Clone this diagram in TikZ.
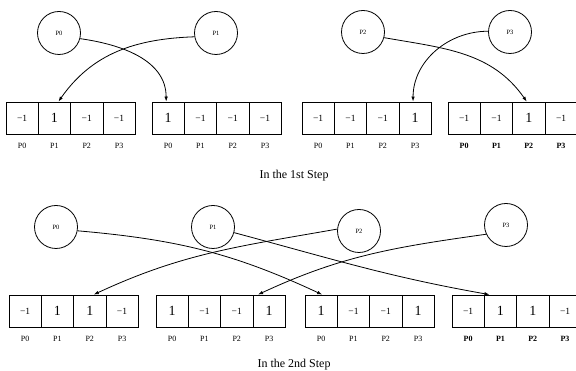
\documentclass[tikz,border=0pt]{standalone}
\usepackage{fontspec}
\setmainfont{Liberation Serif}
\usetikzlibrary{arrows.meta}
\newcommand\mo{{\fontsize{9.5}{11}\selectfont −1}}
\newcommand\one{{\fontsize{14}{16}\selectfont 1}}
\tikzset{
  cell/.style={draw, line width=0.8pt, minimum width=32.3pt, minimum height=32pt, inner sep=0pt},
  lab/.style={font=\fontsize{8}{9}\selectfont, inner sep=0pt},
  boldlab/.style={font=\fontsize{8}{9}\selectfont\bfseries, inner sep=0pt},
  proc/.style={draw, circle, line width=0.8pt, minimum size=43pt, inner sep=0pt, font=\fontsize{6.5}{8}\selectfont},
  msg/.style={line width=0.8pt, -{Latex[length=5pt,width=3.5pt]}},
  title/.style={font=\fontsize{12}{14}\selectfont, inner sep=0pt}
}
\newcommand\arrayrow[5]{%
  \foreach \v [count=\i from 0] in {#4} {
    \node[cell] (#1c\i) at ({#2+16.15+32.3*\i},#3) {\v};
    \node[#5] (#1l\i) at ({#2+16.15+32.3*\i},#3-28) {P\i};
  }}
\begin{document}
\begin{tikzpicture}[x=1pt,y=1pt]
\useasboundingbox (0,0) rectangle (576,371);
% ---- first step ----
\arrayrow{a1}{6}{253}{\mo,\one,\mo,\mo}{lab}
\arrayrow{a2}{152}{253}{\one,\mo,\mo,\mo}{lab}
\arrayrow{a3}{302}{253}{\mo,\mo,\mo,\one}{lab}
\arrayrow{a4}{448}{253}{\mo,\mo,\one,\mo}{boldlab}
\node[proc] (p0t) at (59,338) {P0};
\node[proc] (p1t) at (216,338) {P1};
\node[proc] (p2t) at (363,339) {P2};
\node[proc] (p3t) at (510,339) {P3};
\draw[msg] (p0t.-15) to[out=-8,in=90] ([xshift=-2pt]a2c0.north);
\draw[msg] (p1t.190) to[out=182,in=55] ([xshift=4pt]a1c1.north);
\draw[msg] (p2t.-15) to[out=-10,in=125] ([xshift=-2pt]a4c2.north);
\draw[msg] (p3t.178) to[out=180,in=90] ([xshift=-2pt]a3c3.north);
\node[title] (t1) at (294,195) {In the 1st Step};
% ---- second step ----
\arrayrow{b1}{9}{60}{\mo,\one,\one,\mo}{lab}
\arrayrow{b2}{156}{60}{\one,\mo,\mo,\one}{lab}
\arrayrow{b3}{305}{60}{\one,\mo,\mo,\one}{lab}
\arrayrow{b4}{452}{60}{\mo,\one,\one,\mo}{boldlab}
\node[proc] (p0b) at (56,144) {P0};
\node[proc] (p1b) at (213,144) {P1};
\node[proc] (p2b) at (359,140) {P2};
\node[proc] (p3b) at (506,146) {P3};
\draw[msg] (p0b.-10) to[out=-5,in=155] ([xshift=1pt]b3c0.north);
\draw[msg] (p1b.-15) to[out=-15,in=170] ([xshift=-11pt]b4c1.north);
\draw[msg] (p2b.175) to[out=190,in=25] ([xshift=4pt]b1c2.north);
\draw[msg] (p3b.205) to[out=188,in=25] ([xshift=-11pt]b2c3.north);
\node[title] (t2) at (294,6) {In the 2nd Step};
\end{tikzpicture}
\end{document}
